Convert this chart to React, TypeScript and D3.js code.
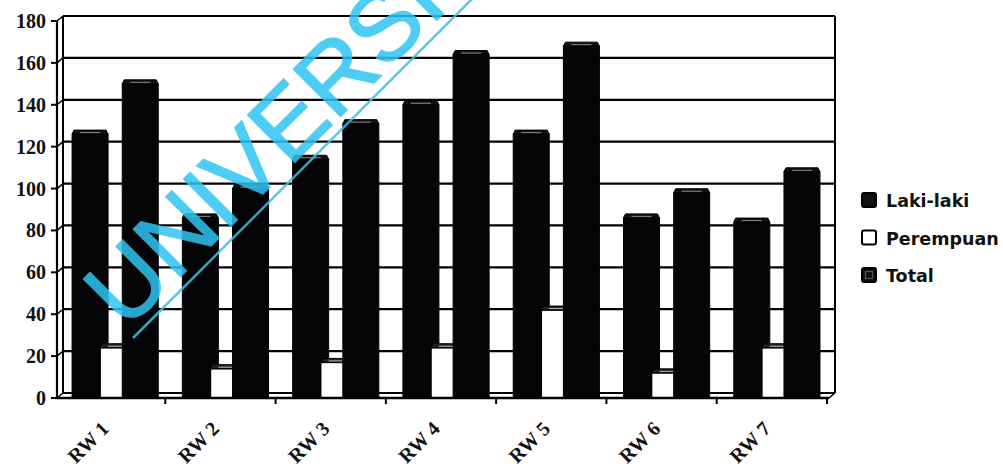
import React from "react";
import * as d3 from "d3";

// Population per RW, split by sex
const categories = ["RW 1", "RW 2", "RW 3", "RW 4", "RW 5", "RW 6", "RW 7"];
const series = ["Laki-laki", "Perempuan", "Total"];
const lakiLaki = [126, 86, 114, 140, 126, 86, 84];
const perempuan = [24, 14, 17, 24, 42, 12, 24];
const total = [150, 100, 131, 164, 168, 98, 108];
const yTicks = [0, 20, 40, 60, 80, 100, 120, 140, 160, 180];

const W = 1003;
const H = 466;
// front axis frame and the depth offset of the back wall
const left = 57;
const right = 829;
const bottom = 398;
const top = 21;
const dx = 6;
const dy = 5;

const wmText = "UNIVERSI";

export default function App() {
  const y = d3.scaleLinear().domain([0, 180]).range([bottom, top]);
  const x0 = d3.scaleBand<string>().domain(categories).range([55, 827]).padding(0);
  const bw = x0.bandwidth();
  const xs = d3.scalePoint<string>().domain(series).range([bw * 0.318, bw * 0.773]);
  const values: Record<string, number[]> = {
    "Laki-laki": lakiLaki,
    Perempuan: perempuan,
    Total: total,
  };
  const barW = 36;
  const whiteW = 30;
  const serif = "'Liberation Serif', 'DejaVu Serif', serif";
  const sans = "'DejaVu Sans', sans-serif";

  const bar = (s: string, i: number) => {
    const v = values[s][i];
    const cx = (x0(categories[i]) as number) + (xs(s) as number);
    const w = s === "Perempuan" ? whiteW : barW;
    const x = cx - w / 2;
    const yt = y(v);
    const dark = s !== "Perempuan";
    const capH = 4;
    return (
      <g key={s + i}>
        <rect
          x={x}
          y={yt}
          width={w}
          height={bottom - yt}
          fill={dark ? "#050505" : "#ffffff"}
          stroke="#000"
          strokeWidth={dark ? 1 : 1.5}
        />
        <path
          d={`M${x},${yt} L${x + 2},${yt - capH} L${x + w - 2},${yt - capH} L${x + w},${yt} Z`}
          fill={dark ? "#111" : "#222"}
          stroke="#000"
          strokeWidth={1}
        />
        <line
          x1={x + 8}
          x2={x + w - 8}
          y1={yt - 1.5}
          y2={yt - 1.5}
          stroke={dark ? "#8a8a8a" : "#bbb"}
          strokeWidth={1}
        />
      </g>
    );
  };

  return (
    <div style={{ position: "absolute", left: 0, top: 0 }}>
      <svg width={W} height={H} style={{ display: "block", background: "#fff" }}>
        {/* back wall grid */}
        {yTicks.map((t) => (
          <line
            key={"g" + t}
            x1={left + dx}
            x2={right + dx}
            y1={y(t) - dy}
            y2={y(t) - dy}
            stroke="#000"
            strokeWidth={2.2}
          />
        ))}
        <line x1={left + dx} x2={left + dx} y1={y(180) - dy} y2={y(0) - dy} stroke="#000" strokeWidth={2} />
        <line x1={right + dx} x2={right + dx} y1={y(180) - dy} y2={y(0) - dy} stroke="#000" strokeWidth={2} />
        {/* side wall links */}
        {yTicks.map((t) => (
          <line key={"s" + t} x1={left} x2={left + dx} y1={y(t)} y2={y(t) - dy} stroke="#000" strokeWidth={1.5} />
        ))}
        <line x1={right} x2={right + dx} y1={bottom} y2={bottom - dy} stroke="#000" strokeWidth={1.5} />

        {/* bars, drawn per group from back-left to front-right */}
        {categories.map((_, i) => (
          <g key={"d" + i}>
            {bar("Laki-laki", i)}
            {bar("Perempuan", i)}
            {bar("Total", i)}
          </g>
        ))}

        {/* front axes */}
        <line x1={left} x2={left} y1={top} y2={bottom + 1} stroke="#000" strokeWidth={2.2} />
        <line x1={left - 2} x2={right} y1={bottom} y2={bottom} stroke="#000" strokeWidth={2.5} />
        {yTicks.map((t) => (
          <g key={"t" + t}>
            <line x1={left - 6} x2={left} y1={y(t)} y2={y(t)} stroke="#000" strokeWidth={2} />
            <text
              x={46}
              y={y(t)}
              dy="0.35em"
              textAnchor="end"
              fontFamily={serif}
              fontWeight="bold"
              fontSize={20}
              fill="#111"
            >
              {t}
            </text>
          </g>
        ))}
        {categories.map((c) => {
          const xb = (x0(c) as number) + bw;
          const cx = (x0(c) as number) + bw / 2;
          return (
            <g key={"x" + c}>
              <line x1={xb} x2={xb} y1={bottom} y2={bottom + 6} stroke="#000" strokeWidth={2} />
              <text
                transform={`translate(${cx},${430}) rotate(-45)`}
                textAnchor="end"
                fontFamily={serif}
                fontWeight="bold"
                fontSize={20}
                fill="#111"
              >
                {c}
              </text>
            </g>
          );
        })}

        {/* legend */}
        {series.map((s, i) => {
          const ly = 193 + i * 37.5;
          return (
            <g key={"l" + s}>
              <rect
                x={862}
                y={ly}
                width={14}
                height={14}
                rx={2}
                fill={s === "Perempuan" ? "#fff" : "#111"}
                stroke="#000"
                strokeWidth={2}
              />
              {s === "Total" && (
                <rect x={865.5} y={ly + 3.5} width={7} height={7} fill="none" stroke="#555" strokeWidth={1.2} />
              )}
              <text x={886} y={ly + 14} fontFamily={sans} fontWeight="bold" fontSize={17.5} fill="#111">
                {s}
              </text>
            </g>
          );
        })}

        {/* watermark */}
        <g opacity={0.85}>
          <text
            transform="translate(125.5,331.5) rotate(-45)"
            fontFamily="'Liberation Sans', Arial, sans-serif"
            fontSize={97}
            fill="#2fc4f3"
            stroke="#2fc4f3"
            strokeWidth={1.5}
          >
            {wmText}
          </text>
          <line x1={133} y1={338} x2={475} y2={-4} stroke="#2fc4f3" strokeWidth={2.5} />
        </g>
      </svg>
    </div>
  );
}
